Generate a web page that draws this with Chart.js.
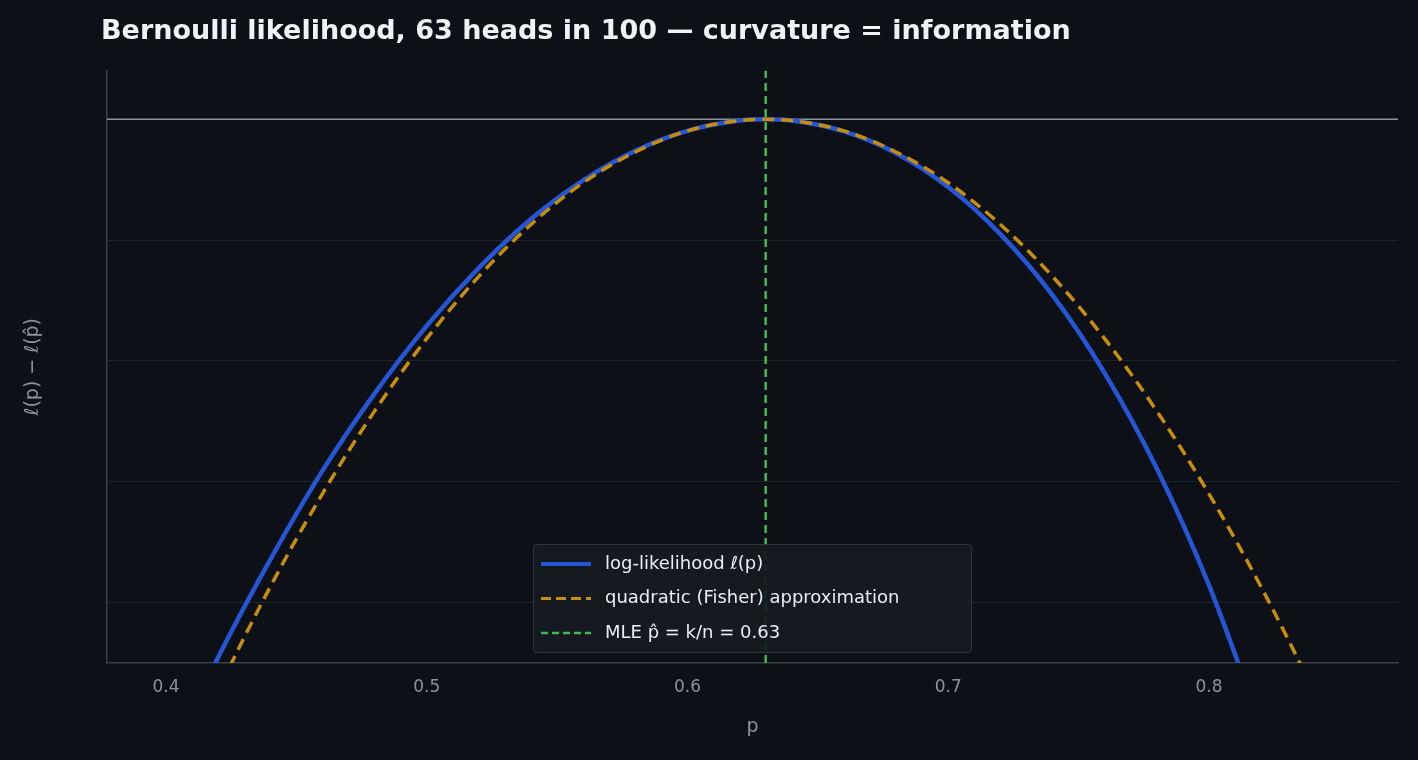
<!DOCTYPE html>
<html><head><meta charset="utf-8">
<script src="https://cdn.jsdelivr.net/npm/chart.js@4/dist/chart.umd.min.js"></script>
<style>html,body{margin:0;background:#0d1017;}#w{width:1418px;height:760px;position:relative}</style>
</head><body><div id="w"><canvas id="c" width="1418" height="760"></canvas></div>
<script>
const pValues=[0.40,0.42,0.44,0.46,0.48,0.50,0.52,0.54,0.56,0.58,0.60,0.62,0.63,0.64,0.66,0.68,0.70,0.72,0.74,0.76,0.78,0.80,0.82];
const logLik=[-10.73,-8.91,-7.29,-5.82,-4.54,-3.42,-2.46,-1.65,-1.01,-0.52,-0.19,-0.02,0,-0.02,-0.20,-0.56,-1.12,-1.90,-2.91,-4.20,-5.78,-7.71,-10.05];
const quadP=[0.40,0.42,0.44,0.46,0.48,0.50,0.52,0.54,0.56,0.58,0.60,0.62,0.63,0.64,0.66,0.68,0.70,0.72,0.74,0.76,0.78,0.80,0.82,0.84,0.86];
const quadVals=[-11.35,-9.46,-7.74,-6.20,-4.83,-3.63,-2.60,-1.74,-1.05,-0.54,-0.19,-0.02,0,-0.02,-0.19,-0.54,-1.05,-1.74,-2.60,-3.63,-4.83,-6.20,-7.74,-9.46,-11.35];
const mleP=0.63;
const yTicks=[0,-2,-4,-6,-8];
const xTicks=[0.4,0.5,0.6,0.7,0.8];
const labels=['log-likelihood ℓ(p)','quadratic (Fisher) approximation','MLE p̂ = k/n = 0.63'];
const F='"DejaVu Sans", sans-serif';
const legendPlugin={id:'lg',afterDraw(ch){
 const c=ch.ctx, a=ch.chartArea;
 c.save();
 c.fillStyle='#8b949e';c.font='19px '+F;c.textAlign='center';c.textBaseline='middle';
 c.fillText('p',(a.left+a.right)/2,727);
 c.translate(33,(a.top+a.bottom)/2);c.rotate(-Math.PI/2);c.fillText('ℓ(p) − ℓ(p̂)',0,0);
 c.restore();c.save();
 const x=533,y=544,w=438,h=108;
 c.fillStyle='rgba(22,27,34,0.92)';c.strokeStyle='#30363d';c.lineWidth=1;
 c.beginPath();c.roundRect(x+0.5,y+0.5,w,h,3);c.fill();c.stroke();
 const items=[['#2456d6',[],4],['#c88d0a',[10,5],3],['#3fb950',[7,4],2.5]];
 c.font='18px '+F;c.textBaseline='middle';
 items.forEach((it,i)=>{const yy=y+20+i*34.5;
  c.strokeStyle=it[0];c.setLineDash(it[1]);c.lineWidth=it[2];
  c.beginPath();c.moveTo(x+8,yy);c.lineTo(x+58,yy);c.stroke();
  c.setLineDash([]);c.fillStyle='#e6edf3';c.fillText(labels[i],x+72,yy);});
 c.restore();}};
new Chart(document.getElementById('c'),{type:'scatter',
data:{datasets:[
 {data:[{x:0.3774,y:0},{x:0.8725,y:0}],borderColor:'#8b949e',borderWidth:1.5,showLine:true,pointRadius:0,order:5},
 {data:pValues.map((p,i)=>({x:p,y:logLik[i]})),borderColor:'#2456d6',borderWidth:4.5,showLine:true,pointRadius:0,cubicInterpolationMode:'monotone',order:2},
 {data:quadP.map((p,i)=>({x:p,y:quadVals[i]})),borderColor:'#c88d0a',borderWidth:3.5,borderDash:[12,7],showLine:true,pointRadius:0,cubicInterpolationMode:'monotone',order:1},
 {data:[{x:mleP,y:-9},{x:mleP,y:0.81}],borderColor:'#3fb950',borderWidth:2.5,borderDash:[8,5],showLine:true,pointRadius:0,order:0}
]},
options:{responsive:false,animation:false,devicePixelRatio:1,
 layout:{padding:{left:101,right:20,top:0,bottom:0}},
 plugins:{legend:{display:false},tooltip:{enabled:false},
  title:{display:true,text:'Bernoulli likelihood, 63 heads in 100 — curvature = information',align:'start',color:'#f0f3f6',font:{family:F,size:27,weight:'bold'},padding:{top:16,bottom:22}}},
 scales:{
  x:{type:'linear',min:0.3774,max:0.8725,afterBuildTicks:s=>{s.ticks=xTicks.map(v=>({value:v}))},
   afterFit:s=>{s.height=97},
   ticks:{color:'#8b949e',font:{family:F,size:17},padding:8,callback:v=>v.toFixed(1)},
   grid:{display:false,tickLength:6,color:'#8b949e'},border:{color:'#3a414b',width:1.5}},
  y:{min:-9,max:0.81,afterBuildTicks:s=>{s.ticks=yTicks.map(v=>({value:v}))},
   afterFit:s=>{s.width=6},
   ticks:{color:'#8b949e',font:{family:F,size:17},padding:10,callback:v=>v===0?'0':'−'+Math.abs(v)},
   grid:{color:'#1f242c',lineWidth:1,drawTicks:false},border:{color:'#3a414b',width:1.5}}
 }},plugins:[legendPlugin]});
</script></body></html>
